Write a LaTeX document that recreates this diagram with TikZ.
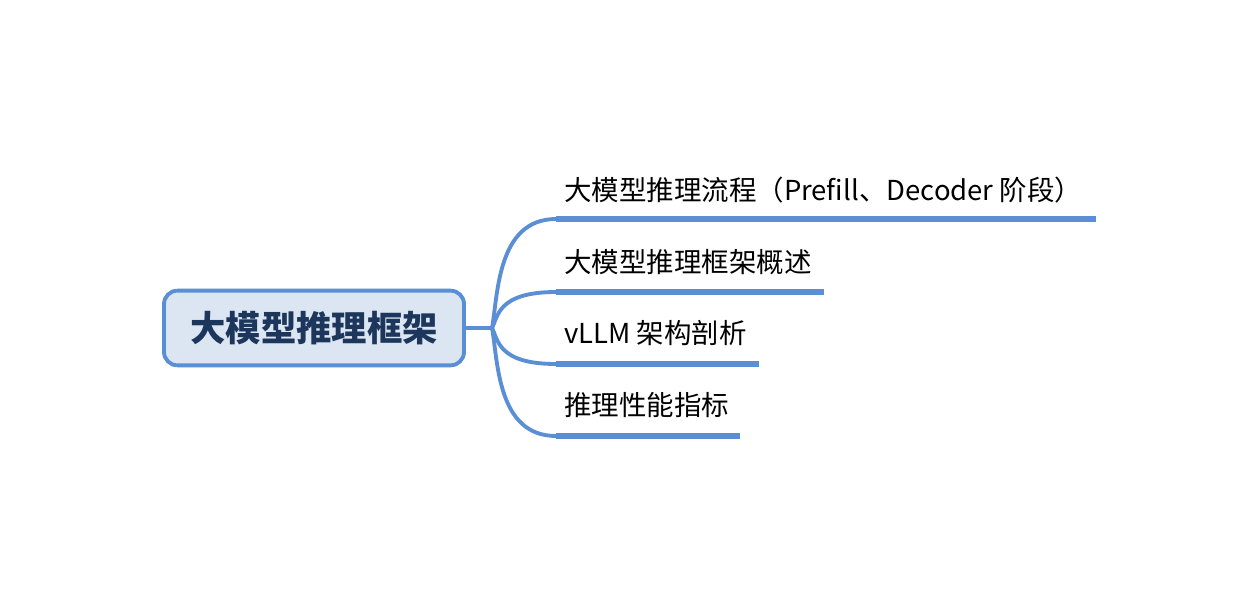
\documentclass[tikz,border=0pt]{standalone}
\usepackage{fontspec}
\setmainfont{Noto Sans CJK SC}
\usetikzlibrary{positioning, calc}
\definecolor{mapblue}{HTML}{5B8FD5}
\definecolor{rootfill}{HTML}{DCE6F2}
\definecolor{roottext}{HTML}{1C365C}

\begin{document}
\begin{tikzpicture}[
            x=0.75pt, y=-0.75pt,
            rootnode/.style={draw=mapblue, line width=2.9pt, fill=rootfill, rounded corners=10pt,
                             minimum width=225pt, minimum height=56pt, text=roottext,
                             font=\bfseries\fontsize{26.5}{30}\selectfont},
            branchnode/.style={anchor=west, inner xsep=6pt, inner ysep=0pt, text=black,
                               font=\fontsize{20.6}{24}\selectfont},
            branchline/.style={draw=mapblue, line width=2.9pt},
            underline/.style={draw=mapblue, line width=4pt},
            ]
            \useasboundingbox (0,0) rectangle (1256,600);

            \node[rootnode]     (root) at (314,328) {大模型推理框架};
            \coordinate         (j)    at (492,328);

            \coordinate         (u1)   at (556,219);
            \coordinate         (u2)   at (556,292);
            \coordinate         (u3)   at (556,364);
            \coordinate         (u4)   at (556,436);

            \node[branchnode]   (b1)   at (556,190) {大模型推理流程（Prefill、Decoder 阶段）};
            \node[branchnode]   (b2)   at (556,262) {大模型推理框架概述};
            \node[branchnode]   (b3)   at (556,333) {vLLM 架构剖析};
            \node[branchnode]   (b4)   at (556,405) {推理性能指标};

            \draw[branchline] (root.east) -- (j);
            \draw[branchline] (j) .. controls ($(j)!0.3!(j |- u1) + (6,0)$) and ($(j |- u1) + (5,0)$) .. (u1);
            \draw[branchline] (j) .. controls ($(j)!0.3!(j |- u2) + (6,0)$) and ($(j |- u2) + (5,0)$) .. (u2);
            \draw[branchline] (j) .. controls ($(j)!0.3!(j |- u3) + (6,0)$) and ($(j |- u3) + (5,0)$) .. (u3);
            \draw[branchline] (j) .. controls ($(j)!0.3!(j |- u4) + (6,0)$) and ($(j |- u4) + (5,0)$) .. (u4);

            \draw[underline] (u1) -- ($(u1 -| b1.east) + (6,0)$);
            \draw[underline] (u2) -- ($(u2 -| b2.east) + (4,0)$);
            \draw[underline] (u3) -- ($(u3 -| b3.east) + (4,0)$);
            \draw[underline] (u4) -- ($(u4 -| b4.east) + (3,0)$);
        \end{tikzpicture}
\end{document}
